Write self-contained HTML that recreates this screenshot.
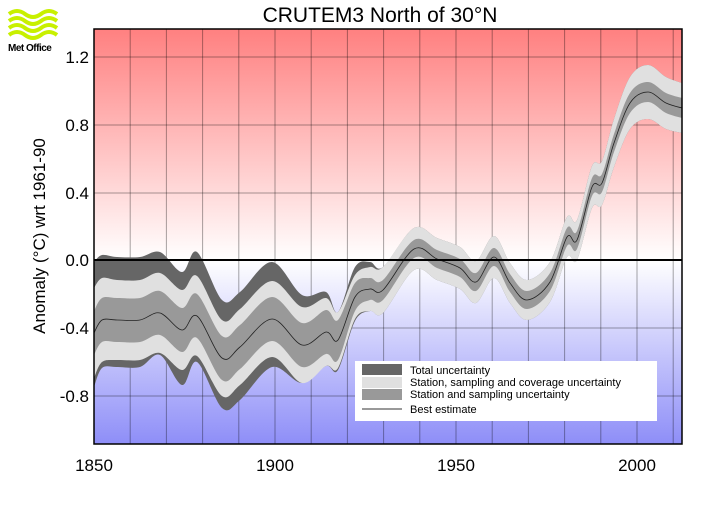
<!DOCTYPE html>
<html><head><meta charset="utf-8"><style>
body{margin:0;background:#fff;}
svg text{font-family:"Liberation Sans",sans-serif;}
</style></head><body>
<svg id="s" width="708" height="504" xmlns="http://www.w3.org/2000/svg">
<defs>
<linearGradient id="bg" x1="0" y1="29" x2="0" y2="444" gradientUnits="userSpaceOnUse">
<stop offset="0" stop-color="#ff8080"/>
<stop offset="0.557" stop-color="#ffffff"/>
<stop offset="1" stop-color="#8e8ef8"/>
</linearGradient>
</defs>
<rect x="94" y="29" width="588" height="415" fill="url(#bg)"/>
<g id="grid" stroke="#000" stroke-opacity="0.35" stroke-width="1"></g>
<g id="bands"></g>
<line x1="94" y1="260" x2="682" y2="260" stroke="#000" stroke-width="2"/>
<rect x="94" y="29" width="588" height="415" fill="none" stroke="#000" stroke-width="1.5"/>
<rect x="355" y="361" width="302" height="60" fill="#fff"/>
<rect x="362" y="364" width="40" height="11" fill="#666"/>
<rect x="362" y="377" width="40" height="11" fill="#e0e0e0"/>
<rect x="362" y="389" width="40" height="11" fill="#999"/>
<line x1="362" y1="409" x2="402" y2="409" stroke="#333" stroke-width="1"/>
<g font-size="11" fill="#000">
<text x="410" y="374">Total uncertainty</text>
<text x="410" y="386">Station, sampling and coverage uncertainty</text>
<text x="410" y="398">Station and sampling uncertainty</text>
<text x="410" y="413">Best estimate</text>
</g>
<text x="380" y="22" font-size="21" text-anchor="middle">CRUTEM3 North of 30°N</text>
<g font-size="17" text-anchor="end">
<text x="89" y="63">1.2</text>
<text x="89" y="131">0.8</text>
<text x="89" y="199">0.4</text>
<text x="89" y="266">0.0</text>
<text x="89" y="334">-0.4</text>
<text x="89" y="402">-0.8</text>
</g>
<g font-size="17" text-anchor="middle">
<text x="94" y="471">1850</text>
<text x="275" y="471">1900</text>
<text x="456" y="471">1950</text>
<text x="637" y="471">2000</text>
</g>
<text transform="translate(45,236) rotate(-90)" font-size="17" text-anchor="middle">Anomaly (°C) wrt 1961-90</text>
<g fill="none" stroke="#c8f000" stroke-width="4">
<path d="M9 14 q8 -6 16 0 t16 0 t16 0"/>
<path d="M9 21 q8 -6 16 0 t16 0 t16 0"/>
<path d="M9 28 q8 -6 16 0 t16 0 t16 0"/>
<path d="M9 35 q8 -6 16 0 t16 0 t16 0"/>
</g>
<text x="8" y="51" font-size="10" font-weight="bold" letter-spacing="-0.5">Met Office</text>
</svg>
<script>
var NS="http://www.w3.org/2000/svg";
var g=document.getElementById("grid");
for(var i=0;i<=16;i++){var x=94+i*36.2;if(x>682)break;var l=document.createElementNS(NS,"line");l.setAttribute("x1",x);l.setAttribute("x2",x);l.setAttribute("y1",29);l.setAttribute("y2",444);g.appendChild(l);}
[57,125,193,328,396].forEach(function(y){var l=document.createElementNS(NS,"line");l.setAttribute("x1",94);l.setAttribute("x2",682);l.setAttribute("y1",y);l.setAttribute("y2",y);g.appendChild(l);});
var P=[[94,333,22,45,71,54],[102,320,22,42,65,48],[117,320,22,40,63,47],[140,320,22,40,63,47],[160,313,22,40,61,42],[182,330,22,40,58,55],[197,316,22,40,64,46],[222,358,22,38,58,50],[240,347,22,38,55,53],[272,319,22,38,57,48],[302,345,22,38,50,38],[326,332,22,34,40,30],[338,340,20,28,28,30],[355,297,14,22,30,24],[370,289,11,22,27,22],[383,290,10,23,23,23],[414,249,9,21,21,21],[437,259,9,21,21,21],[460,268,9,21,21,21],[476,282,9,21,21,21],[494,257,9,21,21,21],[510,283,9,20,20,20],[527,300,9,20,20,20],[550,282,9,20,20,20],[567,237,9,20,20,20],[577,240,9,20,20,20],[592,187,9,21,21,21],[602,183,9,22,22,22],[614,143,9,24,24,24],[630,103,10,26,26,26],[648,92,10,27,27,27],[666,103,10,26,26,26],[682,108,10,25,25,25]];
function cr(pts){var d="";for(var i=0;i<pts.length-1;i++){var p0=pts[Math.max(0,i-1)],p1=pts[i],p2=pts[i+1],p3=pts[Math.min(pts.length-1,i+2)];
var c1x=p1[0]+(p2[0]-p0[0])/6,c1y=p1[1]+(p2[1]-p0[1])/6,c2x=p2[0]-(p3[0]-p1[0])/6,c2y=p2[1]-(p3[1]-p1[1])/6;
d+=" C"+c1x.toFixed(1)+" "+c1y.toFixed(1)+" "+c2x.toFixed(1)+" "+c2y.toFixed(1)+" "+p2[0]+" "+p2[1];}return d;}
function band(fu,fl,col){var up=P.map(function(p){return[p[0],p[1]-fu(p)]});var lo=P.map(function(p){return[p[0],p[1]+fl(p)]}).reverse();
var d="M"+up[0][0]+" "+up[0][1]+cr(up)+" L"+lo[0][0]+" "+lo[0][1]+cr(lo)+"Z";var e=document.createElementNS(NS,"path");e.setAttribute("d",d);e.setAttribute("fill",col);document.getElementById("bands").appendChild(e);}
band(function(p){return Math.max(p[3],p[4])},function(p){return Math.max(p[3],p[5])},"#666");
band(function(p){return p[3]},function(p){return p[3]},"#e0e0e0");
band(function(p){return p[2]},function(p){return p[2]},"#999");
var c=P.map(function(p){return[p[0],p[1]]});var e=document.createElementNS(NS,"path");e.setAttribute("d","M"+c[0][0]+" "+c[0][1]+cr(c));e.setAttribute("fill","none");e.setAttribute("stroke","#222");e.setAttribute("stroke-width","0.8");document.getElementById("bands").appendChild(e);
</script>
</body></html>
